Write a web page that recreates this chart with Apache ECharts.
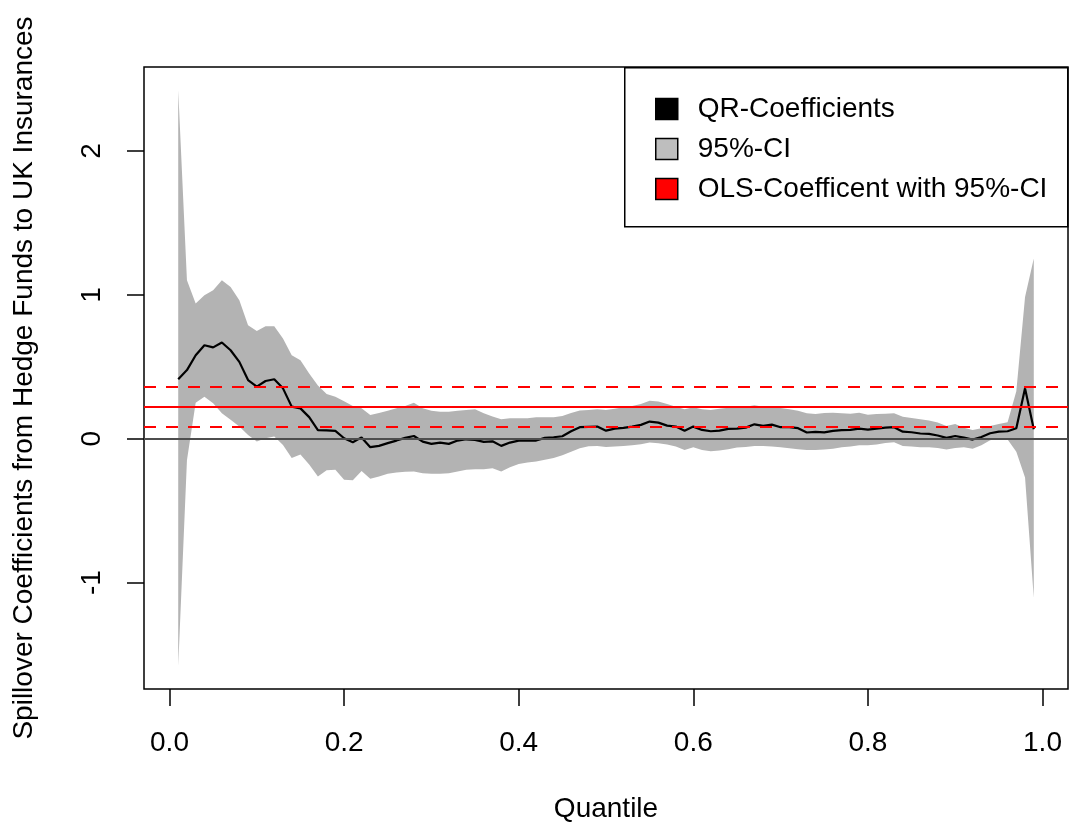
<!DOCTYPE html>
<html>
<head>
<meta charset="utf-8">
<title>Spillover Coefficients</title>
<script src="https://cdn.jsdelivr.net/npm/echarts@6/dist/echarts.min.js"></script>
<style>
  html, body { margin: 0; padding: 0; background: #fff; }
  #chart { width: 1072px; height: 833px; }
</style>
</head>
<body>
<div id="chart"></div>
<script>
  // quantiles tau = 0.01 ... 0.99
  const quantiles = [
    0.01, 0.02, 0.03, 0.04, 0.05, 0.06, 0.07, 0.08, 0.09, 0.10,
    0.11, 0.12, 0.13, 0.14, 0.15, 0.16, 0.17, 0.18, 0.19, 0.20,
    0.21, 0.22, 0.23, 0.24, 0.25, 0.26, 0.27, 0.28, 0.29, 0.30,
    0.31, 0.32, 0.33, 0.34, 0.35, 0.36, 0.37, 0.38, 0.39, 0.40,
    0.41, 0.42, 0.43, 0.44, 0.45, 0.46, 0.47, 0.48, 0.49, 0.50,
    0.51, 0.52, 0.53, 0.54, 0.55, 0.56, 0.57, 0.58, 0.59, 0.60,
    0.61, 0.62, 0.63, 0.64, 0.65, 0.66, 0.67, 0.68, 0.69, 0.70,
    0.71, 0.72, 0.73, 0.74, 0.75, 0.76, 0.77, 0.78, 0.79, 0.80,
    0.81, 0.82, 0.83, 0.84, 0.85, 0.86, 0.87, 0.88, 0.89, 0.90,
    0.91, 0.92, 0.93, 0.94, 0.95, 0.96, 0.97, 0.98, 0.99
  ]

  const qrCoef = [
    0.414, 0.477, 0.58, 0.65, 0.635, 0.669, 0.615, 0.534, 0.408, 0.362,
    0.401, 0.413, 0.35, 0.223, 0.211, 0.15, 0.06, 0.058, 0.054, 0.003,
    -0.025, 0.009, -0.059, -0.05, -0.031, -0.013, 0.006, 0.019, -0.02, -0.036,
    -0.027, -0.036, -0.013, -0.004, -0.008, -0.022, -0.018, -0.05, -0.027, -0.013,
    -0.013, -0.013, 0.006, 0.01, 0.017, 0.052, 0.08, 0.082, 0.084, 0.056,
    0.07, 0.075, 0.084, 0.096, 0.119, 0.112, 0.091, 0.084, 0.056, 0.084,
    0.061, 0.052, 0.056, 0.068, 0.07, 0.077, 0.1, 0.089, 0.098, 0.08,
    0.08, 0.073, 0.043, 0.047, 0.044, 0.054, 0.059, 0.061, 0.07, 0.063,
    0.07, 0.077, 0.08, 0.049, 0.045, 0.036, 0.033, 0.022, 0.006, 0.019,
    0.008, -0.006, 0.012, 0.038, 0.049, 0.052, 0.073, 0.35, 0.066
  ]

  const ciUpper = [
    2.423, 1.101, 0.94, 0.998, 1.032, 1.101, 1.055, 0.962, 0.789, 0.749,
    0.782, 0.782, 0.696, 0.581, 0.546, 0.454, 0.37, 0.31, 0.292, 0.26,
    0.228, 0.211, 0.165, 0.179, 0.195, 0.211, 0.227, 0.25, 0.211, 0.195,
    0.188, 0.188, 0.195, 0.2, 0.204, 0.177, 0.154, 0.135, 0.142, 0.142,
    0.142, 0.149, 0.149, 0.149, 0.158, 0.179, 0.196, 0.2, 0.204, 0.2,
    0.209, 0.218, 0.227, 0.241, 0.264, 0.258, 0.241, 0.223, 0.204, 0.218,
    0.204, 0.2, 0.209, 0.216, 0.218, 0.223, 0.232, 0.223, 0.218, 0.214,
    0.204, 0.195, 0.177, 0.172, 0.178, 0.181, 0.177, 0.174, 0.181, 0.167,
    0.172, 0.174, 0.177, 0.153, 0.144, 0.135, 0.126, 0.112, 0.089, 0.103,
    0.077, 0.061, 0.073, 0.089, 0.103, 0.115, 0.33, 0.985, 1.252
  ]

  const ciLower = [
    -1.58, -0.15, 0.25, 0.292, 0.246, 0.177, 0.131, 0.084, 0.026, -0.02,
    0.003, 0.015, -0.043, -0.135, -0.11, -0.18, -0.262, -0.22, -0.216, -0.286,
    -0.288, -0.225, -0.278, -0.262, -0.244, -0.235, -0.23, -0.228, -0.24, -0.244,
    -0.244, -0.24, -0.228, -0.216, -0.212, -0.212, -0.205, -0.228, -0.198, -0.175,
    -0.165, -0.158, -0.147, -0.135, -0.115, -0.09, -0.066, -0.052, -0.05, -0.057,
    -0.055, -0.05, -0.045, -0.038, -0.027, -0.031, -0.041, -0.055, -0.078, -0.059,
    -0.078, -0.087, -0.082, -0.073, -0.061, -0.057, -0.05, -0.05, -0.055, -0.059,
    -0.066, -0.073, -0.078, -0.078, -0.075, -0.07, -0.06, -0.055, -0.045, -0.045,
    -0.04, -0.03, -0.025, -0.05, -0.055, -0.06, -0.06, -0.065, -0.075, -0.065,
    -0.06, -0.07, -0.045, -0.01, 0.0, -0.005, -0.09, -0.27, -1.106
  ]

  // OLS estimate and its 95% interval
  const olsCoef = 0.2226
  const olsLower = 0.0839
  const olsUpper = 0.3613

  const xTicks = [0, 0.2, 0.4, 0.6, 0.8, 1.0]
  const yTicks = [-1, 0, 1, 2]

  const FONT = '"Liberation Sans", Arial, Helvetica, sans-serif'
  const BAND = '#B3B3B3'

  const coefPts = quantiles.map((q, i) => [q, qrCoef[i]])
  const ciRows = quantiles.map((q, i) => [q, ciLower[i], ciUpper[i]])

  // CI band as a single polygon: upper edge left->right, lower edge back
  function renderBand (params, api) {
    if (params.dataIndex !== 0) return null
    const top = ciRows.map(r => api.coord([r[0], r[2]]))
    const bottom = ciRows.slice().reverse().map(r => api.coord([r[0], r[1]]))
    return {
      type: 'polygon',
      shape: { points: top.concat(bottom) },
      style: { fill: BAND, stroke: null }
    }
  }

  const chart = echarts.init(document.getElementById('chart'), null, { renderer: 'canvas' })

  chart.setOption({
    animation: false,
    backgroundColor: '#fff',
    textStyle: { fontFamily: FONT, color: '#000' },
    grid: {
      left: 144,
      right: 4,
      top: 67,
      bottom: 144,
      show: true,
      borderColor: '#000',
      borderWidth: 1.5,
      backgroundColor: 'transparent'
    },
    legend: {
      orient: 'vertical',
      left: 650,
      top: 90,
      z: 10,
      itemWidth: 22,
      itemHeight: 21,
      itemGap: 12,
      selectedMode: false,
      textStyle: { fontFamily: FONT, fontSize: 28, color: '#000', padding: [0, 0, 0, 15] },
      data: [
        { name: 'QR-Coefficients', icon: 'rect', itemStyle: { color: '#000', borderColor: '#000', borderWidth: 1.5 } },
        { name: '95%-CI', icon: 'rect', itemStyle: { color: '#BEBEBE', borderColor: '#000', borderWidth: 1.5 } },
        { name: 'OLS-Coefficent with 95%-CI', icon: 'rect', itemStyle: { color: '#FF0000', borderColor: '#000', borderWidth: 1.5 } }
      ]
    },
    graphic: [
      {
        type: 'rect',
        left: 624,
        top: 67,
        z: 3,
        shape: { width: 443, height: 159 },
        style: { fill: '#fff', stroke: '#000', lineWidth: 1.5 }
      }
    ],
    xAxis: {
      type: 'value',
      min: -0.0292,
      max: 1.0292,
      name: 'Quantile',
      nameLocation: 'middle',
      nameGap: 106,
      nameTextStyle: { fontFamily: FONT, fontSize: 28, color: '#000' },
      axisLine: { show: false, onZero: false },
      splitLine: { show: false },
      axisTick: {
        show: true,
        length: 17,
        customValues: xTicks,
        lineStyle: { color: '#000', width: 1.5 }
      },
      axisLabel: {
        customValues: xTicks,
        margin: 40,
        fontSize: 28,
        color: '#000',
        fontFamily: FONT,
        formatter: v => v.toFixed(1)
      }
    },
    yAxis: {
      type: 'value',
      min: -1.74,
      max: 2.584,
      name: 'Spillover Coefficients from Hedge Funds to UK Insurances',
      nameLocation: 'middle',
      nameGap: 106,
      nameTextStyle: { fontFamily: FONT, fontSize: 28, color: '#000' },
      axisLine: { show: false, onZero: false },
      splitLine: { show: false },
      axisTick: {
        show: true,
        length: 17,
        customValues: yTicks,
        lineStyle: { color: '#000', width: 1.5 }
      },
      axisLabel: {
        customValues: yTicks,
        rotate: 90,
        margin: 38,
        fontSize: 28,
        color: '#000',
        fontFamily: FONT,
        formatter: v => String(v)
      }
    },
    series: [
      {
        name: '95%-CI',
        type: 'custom',
        renderItem: renderBand,
        data: ciRows,
        encode: { x: 0, y: [1, 2] },
        silent: true,
        z: 1
      },
      {
        name: 'OLS-Coefficent with 95%-CI',
        type: 'line',
        data: [],
        z: 2,
        markLine: {
          silent: true,
          symbol: 'none',
          label: { show: false },
          data: [
            { yAxis: 0, lineStyle: { color: '#4D4D4D', width: 2, type: 'solid' } },
            { yAxis: olsUpper, lineStyle: { color: '#FF0000', width: 2, type: [12, 10] } },
            { yAxis: olsCoef, lineStyle: { color: '#FF0000', width: 2, type: 'solid' } },
            { yAxis: olsLower, lineStyle: { color: '#FF0000', width: 2, type: [12, 10] } }
          ]
        }
      },
      {
        name: 'QR-Coefficients',
        type: 'line',
        data: coefPts,
        symbol: 'none',
        lineStyle: { color: '#000', width: 2.2 },
        z: 4
      }
    ]
  })
</script>
</body>
</html>
